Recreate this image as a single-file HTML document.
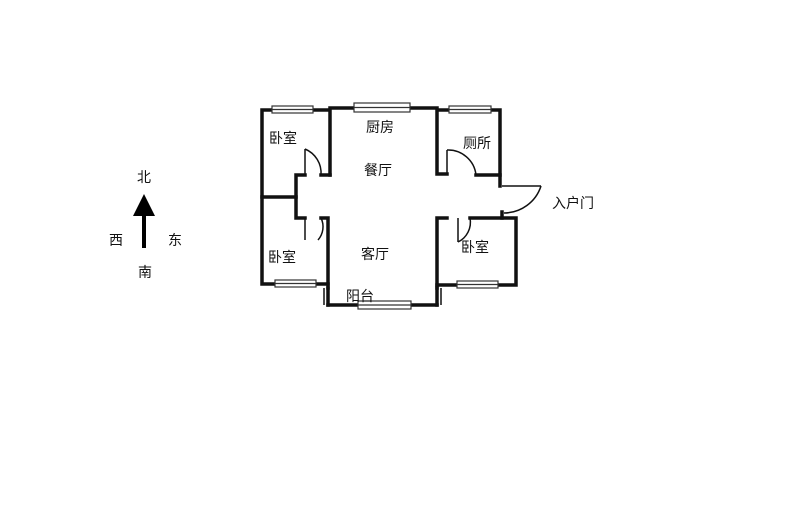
<!DOCTYPE html>
<html><head><meta charset="utf-8"><style>
body{margin:0;background:#fff}
svg{display:block}
text{font-family:"Liberation Sans","Noto Sans CJK SC",sans-serif;font-size:14px;fill:#111}
</style></head><body>
<svg width="800" height="511" viewBox="0 0 800 511">
<g stroke="#111" stroke-width="3.5" fill="none" stroke-linecap="square">
<!-- top left bedroom -->
<polyline points="330,175 330,110 262,110 262,197 296,197"/>
<!-- kitchen top -->
<line x1="330" y1="108" x2="437" y2="108"/>
<!-- bathroom -->
<polyline points="447,174 437,174 437,110 500,110 500,186"/>
<line x1="476" y1="175" x2="500" y2="175"/>
<!-- corridor -->
<polyline points="305,175 296,175 296,218 305,218"/>
<line x1="321" y1="175" x2="330" y2="175"/>
<!-- lower left bedroom -->
<polyline points="262,197 262,284 328,284"/>
<polyline points="321,218 328,218 328,288"/>
<line x1="328" y1="288" x2="328" y2="305"/>
<line x1="328" y1="305" x2="437" y2="305"/>
<line x1="437" y1="288" x2="437" y2="305"/>
<!-- lower right bedroom -->
<polyline points="447,218 437,218 437,288"/>
<polyline points="470,218 516,218 516,285 437,285"/>
<line x1="502" y1="212" x2="502" y2="218"/>
</g>
<g stroke="#111" stroke-width="1.5" fill="none">
<line x1="328" y1="288" x2="328" y2="305"/><line x1="324" y1="288" x2="324" y2="305"/>
<line x1="437" y1="288" x2="437" y2="305"/><line x1="441" y1="288" x2="441" y2="305"/>
<line x1="305" y1="175" x2="305" y2="149"/><path d="M305,149 A26,26 0 0 1 321,175"/>
<line x1="305" y1="218" x2="305" y2="240"/><path d="M321,218 A20,20 0 0 1 318,240"/>
<line x1="447" y1="174" x2="447" y2="150"/><path d="M447,150 A28,28 0 0 1 476,175"/>
<line x1="458" y1="218" x2="458" y2="242"/><path d="M470,218 A22,22 0 0 1 458,242"/>
<line x1="502" y1="186" x2="541" y2="186"/><path d="M541,186 A39,39 0 0 1 504,213"/>
</g>
<g fill="#fff" stroke="#333" stroke-width="1.2">
<rect x="272" y="106" width="41" height="7"/><line x1="272" y1="109.5" x2="313" y2="109.5"/>
<rect x="354" y="103" width="56" height="9"/><line x1="354" y1="107.5" x2="410" y2="107.5"/>
<rect x="449" y="106" width="42" height="7"/><line x1="449" y1="109.5" x2="491" y2="109.5"/>
<rect x="275" y="280" width="41" height="7"/><line x1="275" y1="283.5" x2="316" y2="283.5"/>
<rect x="358" y="301" width="53" height="8"/><line x1="358" y1="305" x2="411" y2="305"/>
<rect x="457" y="281" width="41" height="7"/><line x1="457" y1="284.5" x2="498" y2="284.5"/>
</g>
<text x="269" y="143">卧室</text>
<text x="366" y="132">厨房</text>
<text x="463" y="148">厕所</text>
<text x="364" y="175">餐厅</text>
<text x="268" y="262">卧室</text>
<text x="361" y="259">客厅</text>
<text x="461" y="252">卧室</text>
<text x="346" y="301">阳台</text>
<text x="552" y="208">入户门</text>
<text x="137" y="182">北</text>
<text x="109" y="245">西</text>
<text x="168" y="245">东</text>
<text x="138" y="277">南</text>
<line x1="144" y1="210" x2="144" y2="248" stroke="#000" stroke-width="4"/>
<polygon points="144,194 133,216 155,216" fill="#000"/>
</svg>
</body></html>
